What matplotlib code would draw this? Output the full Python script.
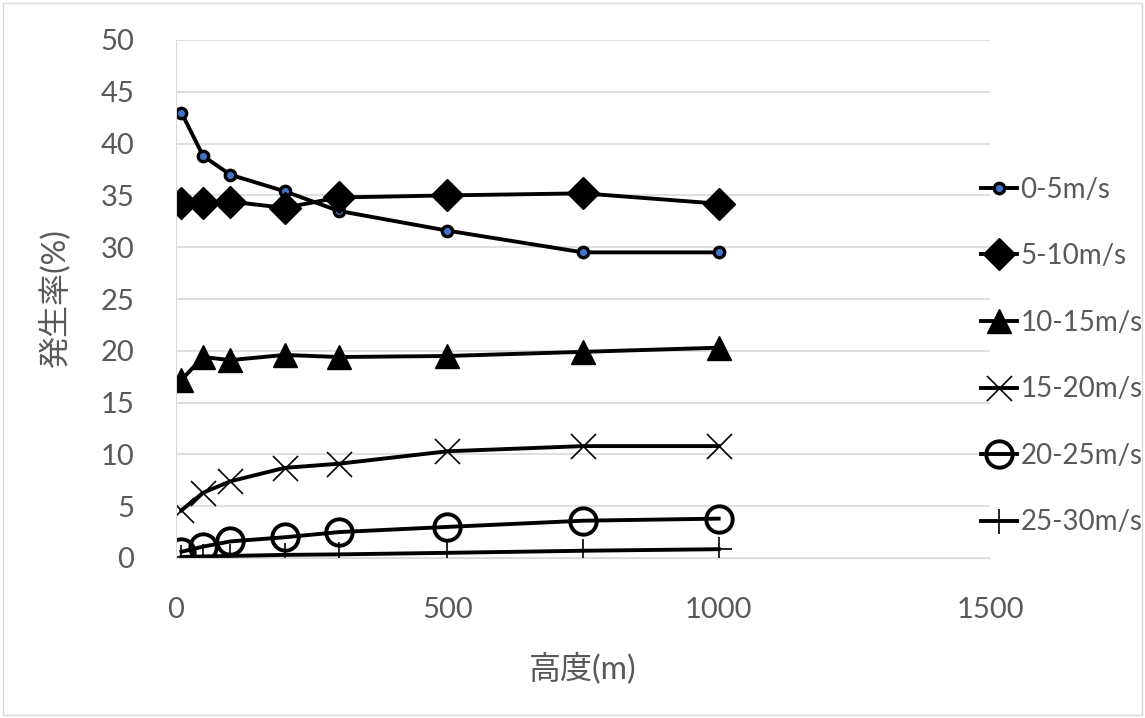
import matplotlib.pyplot as plt
from matplotlib.patches import Rectangle

plt.rcParams['font.family'] = ['Lato', 'Noto Sans CJK JP', 'DejaVu Sans']

# heights (m) and occurrence rate (%) per wind-speed class
height = [10, 50, 100, 200, 300, 500, 750, 1000]
v0_5 = [43.0, 38.8, 37.0, 35.4, 33.5, 31.6, 29.5, 29.5]
v5_10 = [34.3, 34.3, 34.4, 33.8, 34.8, 35.0, 35.2, 34.2]
v10_15 = [17.2, 19.4, 19.1, 19.6, 19.4, 19.5, 19.9, 20.3]
v15_20 = [4.6, 6.3, 7.4, 8.7, 9.1, 10.3, 10.8, 10.8]
v20_25 = [0.6, 1.1, 1.6, 2.0, 2.5, 3.0, 3.6, 3.8]
v25_30 = [0.1, 0.15, 0.2, 0.3, 0.35, 0.5, 0.7, 0.85]
labels = ['0-5m/s', '5-10m/s', '10-15m/s', '15-20m/s', '20-25m/s', '25-30m/s']

fig = plt.figure(figsize=(11.45, 7.18), dpi=100)
ax = fig.add_axes([176 / 1145, 1 - 558 / 718, (990 - 176) / 1145, (558 - 40) / 718])

lw = 2.8
ax.plot(height, v0_5, color='black', lw=lw, marker='o', ms=7.5,
        mfc='#4472C4', mec='black', mew=2.4, label=labels[0])
ax.plot(height, v5_10, color='black', lw=lw, marker='D', ms=16,
        mfc='black', mec='black', label=labels[1])
ax.plot(height, v10_15, color='black', lw=lw, marker='^', ms=17,
        mfc='black', mec='black', label=labels[2])
ax.plot(height, v15_20, color='black', lw=lw, marker='x', ms=18,
        mew=1.2, label=labels[3])
ax.plot(height, v20_25, color='black', lw=lw, marker='o', ms=19,
        mfc='none', mec='black', mew=2.8, label=labels[4])
ax.plot(height, v25_30, color='black', lw=lw, marker='+', ms=18,
        mew=1.2, label=labels[5])

ax.set_xlim(0, 1500)
ax.set_ylim(0, 50)
ax.set_xticks([0, 500, 1000, 1500])
ax.set_yticks(range(0, 51, 5))
ax.grid(axis='y', color='#D9D9D9', lw=1.2)
ax.set_axisbelow(True)
for side in ['top', 'right']:
    ax.spines[side].set_visible(False)
ax.spines['left'].set_color('#D9D9D9')
ax.spines['bottom'].set_color('#D9D9D9')
ax.tick_params(length=0, labelsize=21, labelcolor='#595959')
ax.tick_params(axis='x', pad=28)
ax.tick_params(axis='y', pad=30)

ax.set_xlabel('高度(m)', fontsize=23, color='#595959', labelpad=22)
ax.set_ylabel('発生率(%)', fontsize=23, color='#595959', labelpad=22)

ax.legend(loc='center left', bbox_to_anchor=(0.958, 0.39), frameon=False,
          fontsize=20, labelcolor='#595959', handlelength=1.3,
          handletextpad=0.12, labelspacing=1.46)

# chart area border
fig.patches.append(Rectangle((3 / 1145, 3 / 718), 1 - 6 / 1145, 1 - 6 / 718,
                             transform=fig.transFigure, fill=False,
                             edgecolor='#D9D9D9', lw=1))

fig.savefig('out.png', dpi=100)
